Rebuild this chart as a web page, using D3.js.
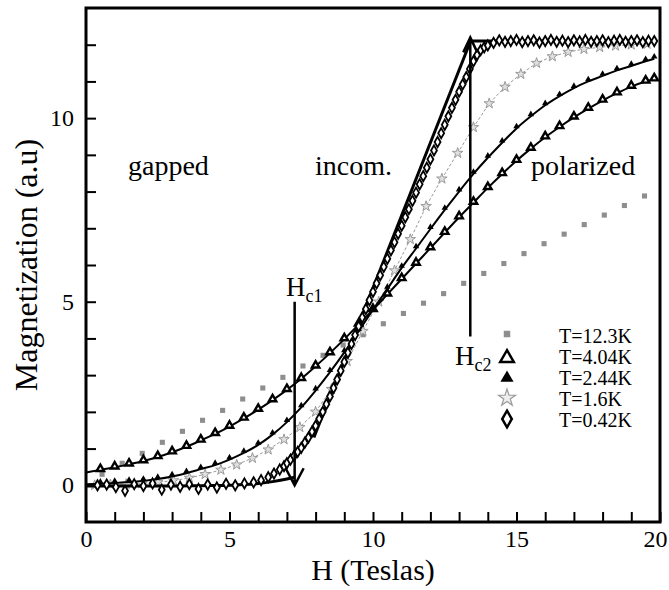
<!DOCTYPE html>
<html><head><meta charset="utf-8">
<script src="https://cdn.jsdelivr.net/npm/d3@7/dist/d3.min.js"></script>
<style>
body{margin:0;background:#fff}
svg{display:block}
text{font-family:"Liberation Serif","Times New Roman",serif;fill:#000}
</style>
</head><body><div id="chart"></div>
<script>
// ---------- data ----------
const xTickLabels = [0, 5, 10, 15, 20];
const yTickLabels = [0, 5, 10];
const legendLabels = ["T=12.3K", "T=4.04K", "T=2.44K", "T=1.6K", "T=0.42K"];
const regionLabels = ["gapped", "incom.", "polarized"];

// T = 12.3 K (grey squares)
const h123 = [0.56,1.26,1.96,2.66,3.36,4.06,4.76,5.46,6.16,6.86,7.56,8.26,8.96,9.66,10.36,11.06,11.76,12.46,13.16,13.86,14.56,15.26,15.96,16.66,17.36,18.06,18.76,19.46];
const m123 = [0.30,0.60,0.87,1.17,1.47,1.77,2.04,2.35,2.65,2.94,3.25,3.54,3.82,4.10,4.40,4.68,4.96,5.22,5.50,5.77,6.04,6.31,6.58,6.84,7.10,7.36,7.62,7.88];

// T = 4.04 K and T = 2.44 K (triangles + fit lines)
const hTri = [0,0.5,1,1.5,2,2.5,3,3.5,4,4.5,5,5.5,6,6.5,7,7.5,8,8.5,9,9.5,10,10.5,11,11.5,12,12.5,13,13.5,14,14.5,15,15.5,16,16.5,17,17.5,18,18.5,19,19.5,19.8];
const m404 = [0.35,0.42,0.49,0.57,0.66,0.77,0.90,1.05,1.22,1.40,1.60,1.82,2.06,2.32,2.60,2.90,3.24,3.60,3.98,4.38,4.78,5.20,5.62,6.04,6.46,6.88,7.30,7.70,8.10,8.48,8.84,9.17,9.48,9.76,10.02,10.26,10.48,10.68,10.86,11.00,11.06];
const m244 = [0.03,0.04,0.06,0.09,0.12,0.17,0.24,0.33,0.44,0.55,0.70,0.88,1.10,1.38,1.72,2.12,2.58,3.08,3.62,4.20,4.78,5.35,5.92,6.45,6.98,7.50,8.00,8.48,8.92,9.33,9.72,10.05,10.35,10.60,10.82,11.00,11.15,11.30,11.42,11.55,11.62];

// T = 1.6 K (grey stars, dashed line)
const h16 = [0.3,0.85,1.4,1.95,2.5,3.05,3.6,4.15,4.7,5.25,5.8,6.35,6.9,7.45,8.0,8.55,9.1,9.65,10.2,10.75,11.3,11.85,12.4,12.95,13.5,14.05,14.6,15.15,15.7,16.25,16.8,17.35,17.9,18.45,19.0,19.55];
const m16 = [0.00,0.02,0.03,0.05,0.08,0.13,0.20,0.30,0.42,0.56,0.74,0.97,1.25,1.58,2.00,2.62,3.38,4.20,5.00,5.85,6.70,7.60,8.35,9.05,9.75,10.40,10.85,11.20,11.50,11.68,11.80,11.88,11.93,11.97,12.00,12.02];

// T = 0.42 K (open diamonds)
const h042 = [0.4,0.72,1.04,1.36,1.68,2.0,2.32,2.64,2.96,3.28,3.6,3.92,4.24,4.56,4.88,5.2,5.52,5.84,6.1,6.35,6.55,6.75,6.9,
  7.0,7.125,7.25,7.375,7.5,7.625,7.75,7.875,8.0,8.125,8.25,8.375,8.5,8.625,8.75,8.875,9.0,9.125,9.25,9.375,9.5,9.625,9.75,9.875,
  10.0,10.125,10.25,10.375,10.5,10.625,10.75,10.875,11.0,11.125,11.25,11.375,11.5,11.625,11.75,11.875,12.0,12.125,12.25,12.375,12.5,12.625,12.75,12.875,
  13.0,13.125,13.25,13.375,13.5,13.625,13.75,13.875,14.0,
  14.2,14.4,14.6,14.8,15.0,15.2,15.4,15.6,15.8,16.0,16.2,16.4,16.6,16.8,17.0,17.2,17.4,17.6,17.8,18.0,18.2,18.4,18.6,18.8,19.0,19.2,19.4,19.6,19.8];
const m042 = [0.00,0.02,-0.05,-0.15,0.03,-0.02,0.05,-0.12,0.02,-0.04,0.03,-0.10,0.02,-0.06,0.04,0.00,0.05,0.08,0.14,0.22,0.32,0.43,0.52,
  0.60,0.70,0.80,0.91,1.02,1.16,1.30,1.46,1.62,1.81,2.00,2.21,2.42,2.65,2.88,3.12,3.36,3.61,3.85,4.09,4.33,4.57,4.80,5.04,
  5.27,5.50,5.72,5.95,6.17,6.40,6.62,6.85,7.07,7.30,7.52,7.75,7.97,8.20,8.42,8.65,8.88,9.12,9.35,9.59,9.82,10.05,10.28,10.50,
  10.72,10.92,11.12,11.34,11.55,11.72,11.85,11.93,11.98,
  12.05,12.12,12.08,12.10,12.13,12.07,12.10,12.12,12.06,12.10,12.13,12.08,12.11,12.07,12.12,12.09,12.13,12.08,12.10,12.12,12.07,12.11,12.13,12.08,12.10,12.12,12.07,12.11,12.10];

// T = 0.42 K theory segments
const fitLowH = [0,1,2,3,4,5,5.5,6,6.5,7,7.27];
const fitLowM = [-0.02,-0.02,-0.02,-0.02,-0.01,0.00,0.02,0.05,0.10,0.17,0.22];
const fitMidH = [7.94,13.4];
const fitMidM = [1.30,12.10];
const fitHighH = [13.4,19.9];
const fitHighM = [12.10,12.10];

// critical fields (arrows)
const hc1 = {h:7.27, from:5.0, to:0.0};
const hc2 = {h:13.39, from:4.05, to:12.2};

// ---------- drawing ----------
const W = 669, Hh = 590;
const svg = d3.select("#chart").append("svg").attr("width", W).attr("height", Hh);
const x = d3.scaleLinear().domain([0,20]).range([86,660]);
const y = d3.scaleLinear().domain([-1,13]).range([522,8]);

// axes (inward ticks)
const gx = svg.append("g").attr("transform","translate(0,522)")
  .call(d3.axisBottom(x).tickValues(d3.range(0,21)).tickSize(-10).tickPadding(8)
  .tickFormat(d => xTickLabels.includes(d) ? d : ""));
const gy = svg.append("g").attr("transform","translate(86,0)")
  .call(d3.axisLeft(y).tickValues(d3.range(0,13)).tickSize(-10).tickPadding(12)
  .tickFormat(d => yTickLabels.includes(d) ? d : ""));
[gx, gy].forEach(g => {
  g.select(".domain").remove();
  g.selectAll(".tick line").attr("stroke","#000").attr("stroke-width",2);
  g.selectAll(".tick text").attr("font-size",24).attr("font-family",'"Liberation Serif",serif').attr("fill","#000");
});
// keep the last x label inside the page
gx.selectAll(".tick text").filter(d => d === 20).attr("dx", -5);

const line = (hs, ms, curve) => d3.line().x((d,i)=>x(hs[i])).y((d,i)=>y(ms[i])).curve(curve || d3.curveLinear)(hs);

// T=12.3K squares
svg.append("g").selectAll("path").data(h123).join("path")
  .attr("transform",(d,i)=>`translate(${x(d)},${y(m123[i])})`)
  .attr("d", d3.symbol(d3.symbolSquare, 26)()).attr("fill","#8e8e8e");

// T=1.6K dashed grey line + stars
svg.append("path").attr("d", line(h16, m16)).attr("fill","none")
  .attr("stroke","#9a9a9a").attr("stroke-width",1).attr("stroke-dasharray","3,2");
svg.append("g").selectAll("path").data(h16).join("path")
  .attr("transform",(d,i)=>`translate(${x(d)},${y(m16[i])})`)
  .attr("d", d3.symbol(d3.symbolStar, 34)()).attr("fill","#e0e0e0").attr("stroke","#999").attr("stroke-width",1);

// T=4.04K line + open triangles
svg.append("path").attr("d", line(hTri, m404, d3.curveMonotoneX)).attr("fill","none")
  .attr("stroke","#000").attr("stroke-width",2);
svg.append("g").selectAll("path").data(hTri.slice(1)).join("path")
  .attr("transform",(d,i)=>`translate(${x(d)},${y(m404[i+1])-1})`)
  .attr("d", d3.symbol(d3.symbolTriangle, 24)()).attr("fill","#fff").attr("stroke","#000").attr("stroke-width",2.4);

// T=2.44K line + filled triangles
svg.append("path").attr("d", line(hTri, m244, d3.curveMonotoneX)).attr("fill","none")
  .attr("stroke","#000").attr("stroke-width",2);
svg.append("g").selectAll("path").data(hTri.slice(1)).join("path")
  .attr("transform",(d,i)=>`translate(${x(d)},${y(m244[i+1])-2})`)
  .attr("d", d3.symbol(d3.symbolTriangle, 18)()).attr("fill","#000");

// T=0.42K theory lines
[[fitLowH,fitLowM],[fitMidH,fitMidM],[fitHighH,fitHighM]].forEach(([hs,ms]) => {
  svg.append("path").attr("d", line(hs, ms, d3.curveMonotoneX)).attr("fill","none")
    .attr("stroke","#000").attr("stroke-width",3);
});
// T=0.42K diamonds
svg.append("g").selectAll("path").data(h042).join("path")
  .attr("transform",(d,i)=>`translate(${x(d)},${y(m042[i])})`)
  .attr("d", d3.symbol(d3.symbolDiamond, 30)()).attr("fill","#fff").attr("stroke","#000").attr("stroke-width",1.8);

// frame
svg.append("rect").attr("x",86).attr("y",8).attr("width",574).attr("height",514)
  .attr("fill","none").attr("stroke","#000").attr("stroke-width",3);

// arrows
function arrow(a, dir) {
  const xa = x(a.h), y0 = y(a.from), y1 = y(a.to);
  const hw = dir > 0 ? 9 : 7, hl = dir > 0 ? 17 : 15;
  const back = y1 - dir*hl;
  svg.append("path")
    .attr("d", `M${xa},${y0}L${xa},${y1}M${xa-hw},${back}L${xa},${y1}L${xa+hw},${back}`)
    .attr("fill","none").attr("stroke","#000").attr("stroke-width",2.5);
}
arrow(hc1, 1);
arrow(hc2, -1);

// Hc labels
function hcLabel(px, py, sub) {
  const t = svg.append("text").attr("x",px).attr("y",py).attr("font-size",27);
  t.append("tspan").text("H");
  t.append("tspan").attr("font-size",18).attr("dy",6).text(sub);
}
hcLabel(286, 296, "c1");
hcLabel(455, 365, "c2");

// region labels
const regionX = [128, 315, 531];
regionLabels.forEach((s,i)=> svg.append("text").attr("x",regionX[i]).attr("y",175).attr("font-size",28).text(s));

// legend
const legY = [343, 364, 385, 406, 427];
const legColor = ["#8e8e8e","#000","#000","#b4b4b4","#000"];
legendLabels.forEach((s,i)=> svg.append("text").attr("x",559).attr("y",legY[i]).attr("font-size",20).attr("fill",legColor[i]).text(s));
const lx = 507;
svg.append("path").attr("transform",`translate(${lx},${legY[0]-9})`).attr("d",d3.symbol(d3.symbolSquare,42)()).attr("fill","#8e8e8e");
svg.append("path").attr("transform",`translate(${lx},${legY[1]-6})`).attr("d",d3.symbol(d3.symbolTriangle,80)()).attr("fill","#fff").attr("stroke","#000").attr("stroke-width",2.5);
svg.append("path").attr("transform",`translate(${lx},${legY[2]-7})`).attr("d",d3.symbol(d3.symbolTriangle,75)()).attr("fill","#000");
svg.append("path").attr("transform",`translate(${lx},${legY[3]-8})`).attr("d",d3.symbol(d3.symbolStar,90)()).attr("fill","#eee").attr("stroke","#9a9a9a").attr("stroke-width",1.2);
svg.append("path").attr("transform",`translate(${lx},${legY[4]-8})`).attr("d",d3.symbol(d3.symbolDiamond,80)()).attr("fill","#fff").attr("stroke","#000").attr("stroke-width",2.5);

// axis titles
svg.append("text").attr("x",373).attr("y",580).attr("text-anchor","middle").attr("font-size",30).text("H (Teslas)");
svg.append("text").attr("transform","translate(37,265) rotate(-90)").attr("text-anchor","middle").attr("font-size",32).text("Magnetization (a.u)");
</script>
</body></html>
